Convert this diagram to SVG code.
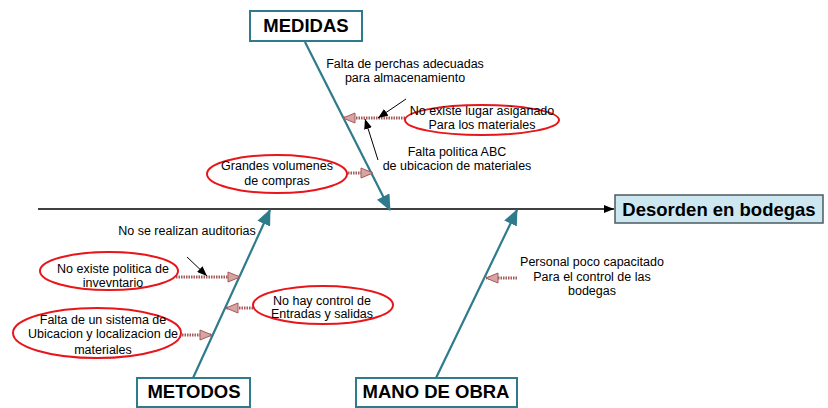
<svg xmlns="http://www.w3.org/2000/svg" width="828" height="408" viewBox="0 0 828 408">
<style>
.t{font-family:"Liberation Sans",Arial,sans-serif;font-size:12.5px;fill:#000;text-anchor:middle}
.h{font-family:"Liberation Sans",Arial,sans-serif;font-size:18.5px;font-weight:bold;fill:#000;text-anchor:middle}
.box{fill:#fff;stroke:#2e7b8c;stroke-width:2}
.ell{fill:#fff;stroke:#e8151b;stroke-width:2}
.bone{stroke:#2e7b8c;stroke-width:2.2;fill:none}
.hat{stroke:#a55a5a;stroke-width:3;stroke-dasharray:1.5 1;fill:none}
.blk{stroke:#000;stroke-width:1;fill:none}
</style>
<defs>
<marker id="tealA" markerUnits="userSpaceOnUse" markerWidth="16" markerHeight="14" viewBox="0 0 16 14" refX="15" refY="7" orient="auto">
<path d="M0,0 L16,7 L0,14 Z" fill="#2e7b8c"/>
</marker>
<marker id="hatA" markerUnits="userSpaceOnUse" markerWidth="14" markerHeight="12" viewBox="0 0 14 12" refX="13" refY="6" orient="auto">
<path d="M1,1 L13,6 L1,11 Z" fill="#d7a4a4" stroke="#a55a5a" stroke-width="1"/>
</marker>
<marker id="blkA" markerUnits="userSpaceOnUse" markerWidth="10" markerHeight="8" viewBox="0 0 10 8" refX="10" refY="4" orient="auto">
<path d="M0,0 L10,4 L0,8 Z" fill="#000"/>
</marker>
</defs>

<g id="connectors">
<line x1="38" y1="209" x2="614" y2="209" stroke="#000" stroke-width="1.5" marker-end="url(#blkA)"/>
<line class="bone" x1="305" y1="42" x2="390" y2="210" marker-end="url(#tealA)"/>
<line class="bone" x1="193" y1="378" x2="270" y2="210" marker-end="url(#tealA)"/>
<line class="bone" x1="436" y1="378" x2="517" y2="210" marker-end="url(#tealA)"/>
<line class="hat" x1="405" y1="118" x2="343" y2="118" marker-end="url(#hatA)"/>
<line class="hat" x1="348" y1="173" x2="373" y2="173" marker-end="url(#hatA)"/>
<line class="hat" x1="176" y1="277" x2="240" y2="277" marker-end="url(#hatA)"/>
<line class="hat" x1="182" y1="335" x2="212" y2="335" marker-end="url(#hatA)"/>
<line class="hat" x1="253" y1="308" x2="226" y2="308" marker-end="url(#hatA)"/>
<line class="hat" x1="517" y1="278" x2="486" y2="278" marker-end="url(#hatA)"/>
<line class="blk" x1="406" y1="99" x2="378" y2="118" marker-end="url(#blkA)"/>
<line class="blk" x1="378" y1="160" x2="365" y2="119" marker-end="url(#blkA)"/>
<line class="blk" x1="187" y1="257" x2="207" y2="276" marker-end="url(#blkA)"/>
</g>

<g id="effect">
<rect x="615" y="195" width="208" height="28" fill="#cce7f0" stroke="#4d5a60" stroke-width="1.5"/>
<text class="h" x="719" y="216">Desorden en bodegas</text>
</g>

<g id="medidas">
<rect class="box" x="250" y="11" width="112" height="30"/>
<text class="h" x="306" y="32">MEDIDAS</text>
</g>

<g id="metodos">
<rect class="box" x="137" y="378" width="113" height="29"/>
<text class="h" x="194" y="398">METODOS</text>
</g>

<g id="mano-de-obra">
<rect class="box" x="356" y="378" width="161" height="29"/>
<text class="h" x="436" y="398">MANO DE OBRA</text>
</g>

<g id="falta-perchas">
<text class="t" x="405" y="68">Falta de perchas adecuadas</text>
<text class="t" x="405" y="82">para almacenamiento</text>
</g>

<g id="no-existe-lugar">
<ellipse class="ell" cx="482" cy="120" rx="77" ry="15"/>
<text class="t" x="482" y="115">No existe lugar asiganado</text>
<text class="t" x="482" y="129">Para los materiales</text>
</g>

<g id="falta-abc">
<text class="t" x="457" y="156">Falta politica ABC</text>
<text class="t" x="457" y="170">de ubicacion de materiales</text>
</g>

<g id="grandes-volumenes">
<ellipse class="ell" cx="277" cy="174" rx="70" ry="19"/>
<text class="t" x="277" y="170">Grandes volumenes</text>
<text class="t" x="277" y="185">de compras</text>
</g>

<g id="no-auditorias">
<text class="t" x="187" y="235">No se realizan auditorias</text>
</g>

<g id="no-politica-inventario">
<ellipse class="ell" cx="109" cy="271" rx="69" ry="19"/>
<text class="t" x="113" y="273">No existe politica de</text>
<text class="t" x="113" y="287">invevntario</text>
</g>

<g id="falta-sistema">
<ellipse class="ell" cx="97" cy="333" rx="84" ry="25"/>
<text class="t" x="103" y="324">Falta de un sistema de</text>
<text class="t" x="103" y="338">Ubicacion y localizacion de</text>
<text class="t" x="103" y="354">materiales</text>
</g>

<g id="no-control">
<ellipse class="ell" cx="323" cy="305" rx="70" ry="19"/>
<text class="t" x="322" y="305">No hay control de</text>
<text class="t" x="322" y="318">Entradas y salidas</text>
</g>

<g id="personal">
<text class="t" x="592" y="266">Personal poco capacitado</text>
<text class="t" x="592" y="281">Para el control de las</text>
<text class="t" x="592" y="295">bodegas</text>
</g>
</svg>
